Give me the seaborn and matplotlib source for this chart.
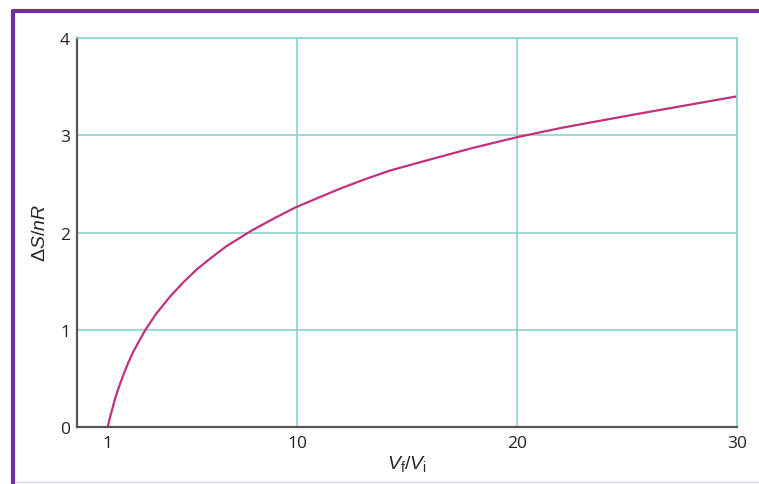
import matplotlib
matplotlib.use("Agg")
import matplotlib.pyplot as plt
import seaborn as sns
import pandas as pd
from matplotlib.lines import Line2D

# Values (Vf/Vi vs dS/nR)
ratio = [1.4, 1.45, 1.5, 1.6, 1.73, 1.86, 2.0, 2.15, 2.33, 2.55, 2.79,
         3.0, 3.17, 3.62, 4.23, 4.8, 5.44, 6.1, 6.8, 7.94, 9.0, 9.95, 11.0,
         11.95, 13.0, 14.2, 16.2, 18, 20, 22, 23.8, 25.5, 27, 28.5, 30]
entropy = [0.0, 0.05, 0.1, 0.18, 0.29, 0.38, 0.47, 0.56, 0.66, 0.77, 0.87,
           0.955, 1.02, 1.17, 1.34, 1.48, 1.62, 1.74, 1.86, 2.02, 2.15, 2.26,
           2.36, 2.45, 2.54, 2.635, 2.76, 2.87, 2.98, 3.075, 3.15, 3.22,
           3.28, 3.34, 3.40]

x_major = [10, 20, 30]
x_minor = [1.4]
x_minor_labels = ["1"]
y_ticks = [0, 1, 2, 3, 4]

df = pd.DataFrame({"ratio": ratio, "entropy": entropy})

sns.set_style("white")
plt.rcParams["font.family"] = ["Open Sans", "DejaVu Sans"]
plt.rcParams["mathtext.fontset"] = "custom"
plt.rcParams["mathtext.rm"] = "Liberation Sans"
plt.rcParams["mathtext.it"] = "Liberation Sans:italic"

grid_col = "#8fd0cd"
axis_col = "#555555"

fig = plt.figure(figsize=(7.59, 4.85), dpi=100)
ax = fig.add_axes([0.1014, 0.1175, 0.8696, 0.8021])

sns.lineplot(data=df, x="ratio", y="entropy", ax=ax, color="#c2307c",
             linewidth=1.6, sort=False)

ax.set_xlim(0, 30)
ax.set_ylim(0, 4)
ax.set_xticks(x_major)
ax.set_xticks(x_minor, minor=True)
ax.set_xticklabels([str(v) for v in x_major])
ax.set_xticklabels(x_minor_labels, minor=True)
ax.set_yticks(y_ticks)
ax.tick_params(axis="both", which="both", length=0, labelsize=12.5,
               labelcolor="#222222")
ax.tick_params(axis="x", which="both", pad=6)
ax.tick_params(axis="y", pad=5)

ax.grid(True, which="major", color=grid_col, linewidth=1.2)
ax.set_axisbelow(True)

for side in ["left", "bottom"]:
    ax.spines[side].set_color(axis_col)
    ax.spines[side].set_linewidth(1.6)
for side in ["top", "right"]:
    ax.spines[side].set_color(grid_col)
    ax.spines[side].set_linewidth(1.2)

ax.set_xlabel(r"$V_{\mathrm{f}}/V_{\mathrm{i}}$", fontsize=14, labelpad=1)
ax.set_ylabel(r"$\Delta S/nR$", fontsize=14, labelpad=8)

# purple page frame
purple = "#7030a0"
fig.add_artist(Line2D([0.0165, 1.0], [0.975, 0.975], color=purple, lw=3,
                      transform=fig.transFigure))
fig.add_artist(Line2D([0.0165, 0.0165], [0.0, 0.975], color=purple, lw=3,
                      transform=fig.transFigure))
fig.add_artist(Line2D([0.02, 1.0], [0.004, 0.004], color="#ddd6e6", lw=1,
                      transform=fig.transFigure))

fig.savefig("out.png", dpi=100)
